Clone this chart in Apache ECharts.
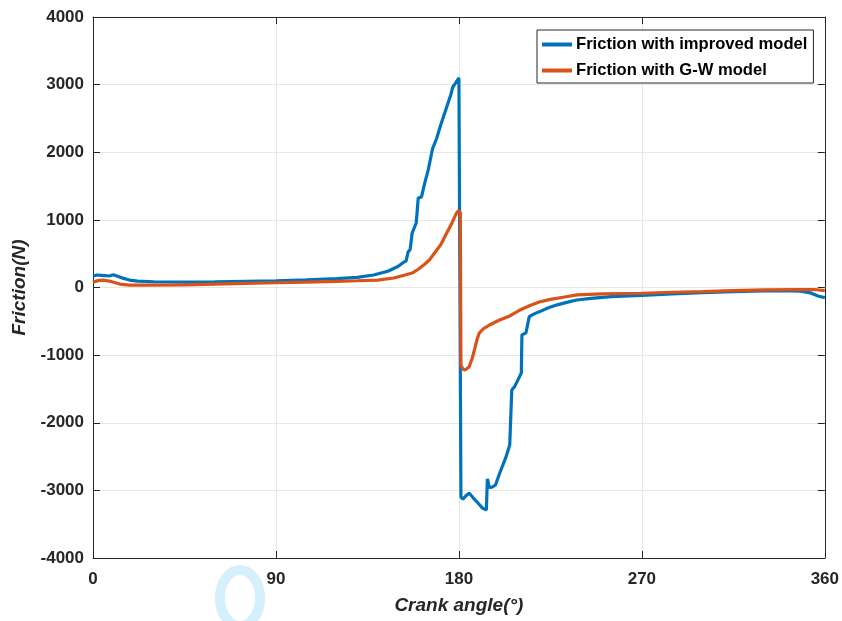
<!DOCTYPE html>
<html>
<head>
<meta charset="utf-8">
<script src="https://cdn.jsdelivr.net/npm/echarts@6/dist/echarts.min.js"></script>
<style>html,body{margin:0;padding:0;background:#fff}#c{width:842px;height:621px}</style>
</head>
<body>
<div id="c"></div>
<script>
var xTicks = [0, 90, 180, 270, 360];
var yTicks = [-4000, -3000, -2000, -1000, 0, 1000, 2000, 3000, 4000];

var improvedAngle = [0,2,4,6,8,10,12,15,18,22,30,45,60,75,90,105,120,130,138,145,150,153,154,155,156,157,158,159,160,161.6,163,165,166,167,169,171,174,176,177,178.5,180,180.5,181,182,183.5,185,187,189.5,191.6,193.5,194,195,196.5,198,200,203,205,206,207.3,209,210.7,211,213,214.6,217,219.5,224,228,233,238,245,255,270,285,300,315,330,340,348,353,357,360];
var improvedFriction = [170,185,180,175,170,190,165,135,110,95,85,80,85,92,100,112,130,150,185,240,310,377,390,525,560,806,880,954,1324,1340,1520,1750,1900,2050,2200,2400,2670,2850,2965,3030,3100,3100,-3100,-3130,-3080,-3040,-3110,-3190,-3262,-3290,-2830,-2960,-2950,-2920,-2750,-2520,-2330,-1515,-1470,-1370,-1265,-700,-670,-430,-390,-360,-300,-260,-220,-185,-160,-135,-115,-95,-78,-62,-50,-48,-55,-80,-130,-150];

var gwAngle = [0,3,5,8,11,14,18,25,45,60,75,90,105,120,130,140,148,153,157,160,163,165.5,168,171,174,176.5,178.8,180,180.7,181,182,183,185,186.5,187.6,189,190,192,195,200,205,210,215,219.5,225,232,238,250,270,285,300,315,330,345,355,360];
var gwFriction = [80,105,110,95,70,45,35,35,40,50,60,70,80,92,100,110,140,180,214,270,340,407,510,630,806,950,1100,1140,1100,-1150,-1210,-1220,-1175,-1050,-925,-760,-675,-610,-555,-480,-420,-333,-265,-215,-175,-140,-110,-95,-85,-70,-60,-45,-35,-30,-30,-45];

var seriesNames = ['Friction with improved model', 'Friction with G-W model'];

function pairs(xs, ys) { return xs.map(function (x, i) { return [x, ys[i]]; }); }

var axisColor = '#262626';
var font = 'Liberation Sans, Arial, Helvetica, sans-serif';

var chart = echarts.init(document.getElementById('c'), null, {renderer: 'canvas'});
chart.setOption({
  animation: false,
  backgroundColor: '#fff',
  textStyle: {fontFamily: font},
  grid: {left: 93, right: 16, top: 17, bottom: 63, containLabel: false},
  graphic: [{
    type: 'ellipse', z: -1,
    shape: {cx: 240, cy: 598, rx: 20, ry: 28},
    style: {fill: 'none', stroke: '#d4f0fc', lineWidth: 10}
  }],
  legend: {
    left: 537, top: 30, orient: 'vertical',
    backgroundColor: '#fff',
    borderColor: axisColor, borderWidth: 1,
    padding: [6, 6, 4, 5], itemGap: 9,
    itemWidth: 30, itemHeight: 4, icon: 'rect',
    textStyle: {fontFamily: font, fontWeight: 'bold', fontSize: 16.6, color: '#000', padding: [0, 0, 0, -1]},
    data: seriesNames
  },
  xAxis: [{
    type: 'value', min: xTicks[0], max: xTicks[xTicks.length - 1], interval: 90,
    position: 'bottom',
    axisLine: {show: true, onZero: false, lineStyle: {color: axisColor, width: 1}},
    axisTick: {show: true, inside: true, length: 7, lineStyle: {color: axisColor}},
    splitLine: {show: true, lineStyle: {color: '#e6e6e6', width: 1}},
    axisLabel: {color: axisColor, fontFamily: font, fontWeight: 'bold', fontSize: 17, margin: 13},
    name: 'Crank angle(°)', nameLocation: 'middle', nameGap: 38,
    nameTextStyle: {color: axisColor, fontFamily: font, fontStyle: 'italic', fontWeight: 'bold', fontSize: 19}
  }, {
    type: 'value', min: xTicks[0], max: xTicks[xTicks.length - 1], interval: 90,
    position: 'top',
    axisLine: {show: true, onZero: false, lineStyle: {color: axisColor, width: 1}},
    axisTick: {show: true, inside: true, length: 7, lineStyle: {color: axisColor}},
    splitLine: {show: false}, axisLabel: {show: false}
  }],
  yAxis: [{
    type: 'value', min: yTicks[0], max: yTicks[yTicks.length - 1], interval: 1000,
    position: 'left',
    axisLine: {show: true, onZero: false, lineStyle: {color: axisColor, width: 1}},
    axisTick: {show: true, inside: true, length: 7, lineStyle: {color: axisColor}},
    splitLine: {show: true, lineStyle: {color: '#e6e6e6', width: 1}},
    axisLabel: {color: axisColor, fontFamily: font, fontWeight: 'bold', fontSize: 17, margin: 9,
      formatter: function (v) { return String(v); }},
    name: 'Friction(N)', nameLocation: 'middle', nameGap: 55, nameRotate: 90,
    nameTextStyle: {color: axisColor, fontFamily: font, fontStyle: 'italic', fontWeight: 'bold', fontSize: 19}
  }, {
    type: 'value', min: yTicks[0], max: yTicks[yTicks.length - 1], interval: 1000,
    position: 'right',
    axisLine: {show: true, onZero: false, lineStyle: {color: axisColor, width: 1}},
    axisTick: {show: true, inside: true, length: 7, lineStyle: {color: axisColor}},
    splitLine: {show: false}, axisLabel: {show: false}
  }],
  series: [{
    name: seriesNames[0], type: 'line', xAxisIndex: 0, yAxisIndex: 0,
    showSymbol: false, symbol: 'none',
    lineStyle: {color: '#0072BD', width: 3.2},
    itemStyle: {color: '#0072BD'},
    data: pairs(improvedAngle, improvedFriction), z: 3
  }, {
    name: seriesNames[1], type: 'line', xAxisIndex: 0, yAxisIndex: 0,
    showSymbol: false, symbol: 'none',
    lineStyle: {color: '#D95319', width: 3.2},
    itemStyle: {color: '#D95319'},
    data: pairs(gwAngle, gwFriction), z: 4
  }]
});
</script>
</body>
</html>
